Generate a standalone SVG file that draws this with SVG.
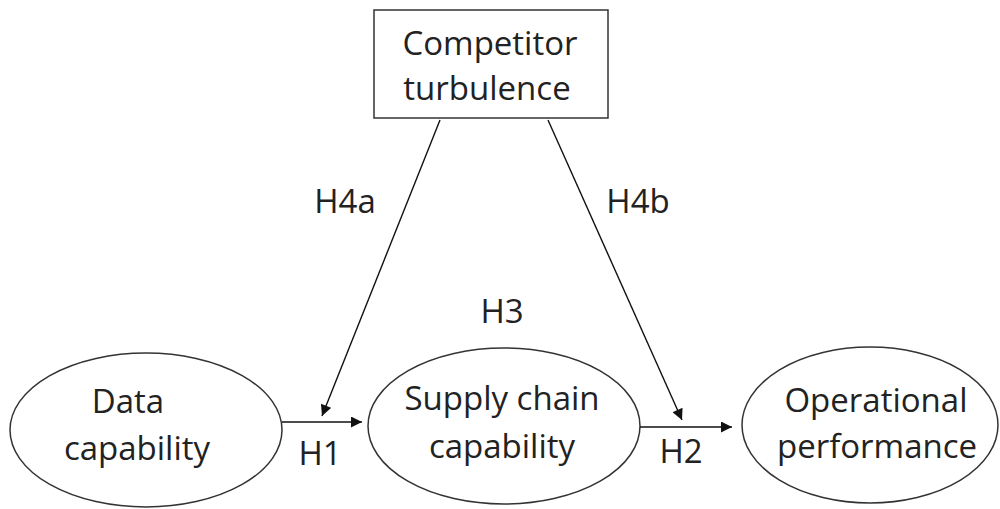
<svg xmlns="http://www.w3.org/2000/svg" width="1000" height="509" viewBox="0 0 1000 509">
  <style>
    .shape { fill: #ffffff; stroke: #333333; stroke-width: 1.5; }
    .label { font-family: "Open Sans", "Liberation Sans", sans-serif; font-size: 33px; fill: #222222; text-anchor: middle; }
    .link { stroke: #111111; stroke-width: 1.4; fill: none; marker-end: url(#arrow); }
  </style>
  <defs>
    <marker id="arrow" viewBox="0 0 10 10" refX="10" refY="5" markerWidth="13" markerHeight="11" markerUnits="userSpaceOnUse" orient="auto">
      <path d="M0,0 L10,5 L0,10 Z" fill="#111111"/>
    </marker>
  </defs>
  <rect width="1000" height="509" fill="#ffffff"/>

  <g id="competitor-turbulence">
    <rect class="shape" x="374" y="10" width="234" height="108"/>
    <text class="label" x="490" y="55">Competitor</text>
    <text class="label" x="487" y="100">turbulence</text>
  </g>

  <g id="data-capability">
    <ellipse class="shape" cx="146" cy="430" rx="136" ry="77"/>
    <text class="label" x="128" y="413">Data</text>
    <text class="label" x="137" y="460">capability</text>
  </g>

  <g id="supply-chain-capability">
    <ellipse class="shape" cx="504" cy="426" rx="136" ry="78"/>
    <text class="label" x="502" y="410">Supply chain</text>
    <text class="label" x="502" y="458">capability</text>
  </g>

  <g id="operational-performance">
    <ellipse class="shape" cx="870" cy="425" rx="128" ry="78"/>
    <text class="label" x="876" y="412">Operational</text>
    <text class="label" x="877" y="458">performance</text>
  </g>

  <g id="connectors">
    <line class="link" x1="282" y1="422" x2="362" y2="422"/>
    <line class="link" x1="640" y1="427" x2="732" y2="427"/>
    <line class="link" x1="440" y1="120" x2="322" y2="416"/>
    <line class="link" x1="548" y1="120" x2="682" y2="420"/>
    <text class="label" x="345" y="213">H4a</text>
    <text class="label" x="638" y="213">H4b</text>
    <text class="label" x="502" y="323">H3</text>
    <text class="label" x="320" y="465">H1</text>
    <text class="label" x="681" y="463">H2</text>
  </g>
</svg>
